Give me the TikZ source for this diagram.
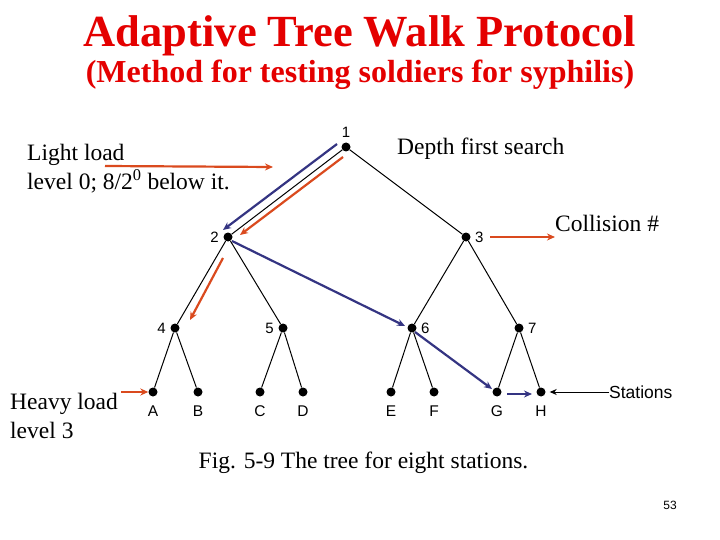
\documentclass[tikz,border=0pt]{standalone}
\usepackage{fontspec}
\setmainfont{Liberation Serif}
\newfontfamily\arialfont{Liberation Sans}
\usetikzlibrary{arrows.meta}
\definecolor{titlered}{RGB}{228,0,0}
\definecolor{walkorange}{RGB}{218,74,30}
\definecolor{walkblue}{RGB}{52,52,130}
\tikzstyle{dot} = [circle, fill=black, inner sep=0pt, minimum size=9pt]
\tikzstyle{tag} = [font=\arialfont\fontsize{15}{17}\selectfont, label distance=1pt]
\tikzstyle{station} = [dot, label={[font=\arialfont\fontsize{15.5}{17}\selectfont, text height=11pt, text depth=0pt, label distance=5pt]below:#1}]
\tikzstyle{edge} = [line width=1pt]
\tikzstyle{textnote} = [font=\fontsize{23.5}{29}\selectfont, inner sep=0pt, align=left]
\tikzstyle{orangearrow} = [line width=2.2pt, draw=walkorange, -{Stealth[length=8pt,width=7pt]}]
\tikzstyle{bluearrow} = [line width=2.2pt, draw=walkblue, -{Stealth[length=8pt,width=7pt]}]
\tikzstyle{blackarrow} = [line width=1pt, -{Stealth[length=7pt,width=6pt]}]

\begin{document}
\begin{tikzpicture}[x=1pt, y=-1pt]
    \useasboundingbox (0,0) rectangle (720,540);

    \node (title) [anchor=base, text=titlered, font=\fontsize{44.5}{50}\selectfont\bfseries] at (360,47) {Adaptive Tree Walk Protocol};
    \node (subtitle) [anchor=base, text=titlered, font=\fontsize{32}{36}\selectfont\bfseries] at (360,83) {(Method for testing soldiers for syphilis)};

    % the tree
    \node (n1) [dot, label={[tag, name=l1]above:1}] at (346,147) {};
    \node (n2) [dot, label={[tag, name=l2]left:2}] at (228,237) {};
    \node (n3) [dot, label={[tag, name=l3]right:3}] at (466,237) {};
    \node (n4) [dot, label={[tag, name=l4]left:4}] at (175,328) {};
    \node (n5) [dot, label={[tag, name=l5]left:5}] at (283,328) {};
    \node (n6) [dot, label={[tag, name=l6]right:6}] at (412,328) {};
    \node (n7) [dot, label={[tag, name=l7]right:7}] at (519,328) {};

    \node (A) [station=A] at (153,392) {};
    \node (B) [station=B] at (198,392) {};
    \node (C) [station=C] at (260,392) {};
    \node (D) [station=D] at (303,392) {};
    \node (E) [station=E] at (391,392) {};
    \node (F) [station=F] at (434,392) {};
    \node (G) [station=G] at (497,392) {};
    \node (H) [station=H] at (541,392) {};

    \draw[edge] (n1) -- (n2);
    \draw[edge] (n1) -- (n3);
    \draw[edge] (n2) -- (n4);
    \draw[edge] (n2) -- (n5);
    \draw[edge] (n3) -- (n6);
    \draw[edge] (n3) -- (n7);
    \draw[edge] (n4) -- (A);
    \draw[edge] (n4) -- (B);
    \draw[edge] (n5) -- (C);
    \draw[edge] (n5) -- (D);
    \draw[edge] (n6) -- (E);
    \draw[edge] (n6) -- (F);
    \draw[edge] (n7) -- (G);
    \draw[edge] (n7) -- (H);

    % notes
    \node (light) [textnote, anchor=north west] at (27,144) {Light load\\level 0; 8/2\textsuperscript{0} below it.};
    \node (depth) [textnote, anchor=base west] at (397,155) {Depth first search};
    \node (collision) [textnote, anchor=base west] at (555,232) {Collision \#};
    \node (heavy) [textnote, anchor=north west] at (10,393) {Heavy load\\level 3};
    \node (stations) [anchor=west, inner sep=0pt, font=\arialfont\fontsize{17.5}{19}\selectfont] at (609,392) {Stations};
    \node (caption) [textnote, anchor=base] at (363.5,468) {Fig. 5-9 The tree for eight stations.};
    \node (page) [anchor=base, inner sep=0pt, font=\arialfont\fontsize{12}{14}\selectfont] at (670,509) {53};

    \coordinate (lightstart) at (105,166);
    \coordinate (lighttip) at (273,167);
    \coordinate (heavystart) at (121,392);

    % walk arrows
    \draw[orangearrow] (lightstart) -- (lighttip);
    \draw[orangearrow] (heavystart) -- (A);
    \draw[orangearrow, shorten <=3pt] (l3.east) -- (l3.east -| collision.west);
    \draw[orangearrow] ([shift={(-3,10)}]n1.center) -- ([shift={(12,-2)}]n2.center);
    \draw[orangearrow] ([shift={(-5,21)}]n2.center) -- ([shift={(15,-8)}]n4.center);
    \draw[bluearrow] ([shift={(-9,-3)}]n1.center) -- ([shift={(-5,-7)}]n2.center);
    \draw[bluearrow] ([shift={(4,4)}]n2.center) -- ([shift={(-7,-2)}]n6.center);
    \draw[bluearrow] ([shift={(3,4)}]n6.center) -- ([shift={(-5,-3)}]G.center);
    \draw[bluearrow] ([shift={(10,2)}]G.center) -- ([shift={(-9,2)}]H.center);
    \draw[blackarrow, shorten >=4pt] (stations) -- (H);

\end{tikzpicture}
\end{document}
